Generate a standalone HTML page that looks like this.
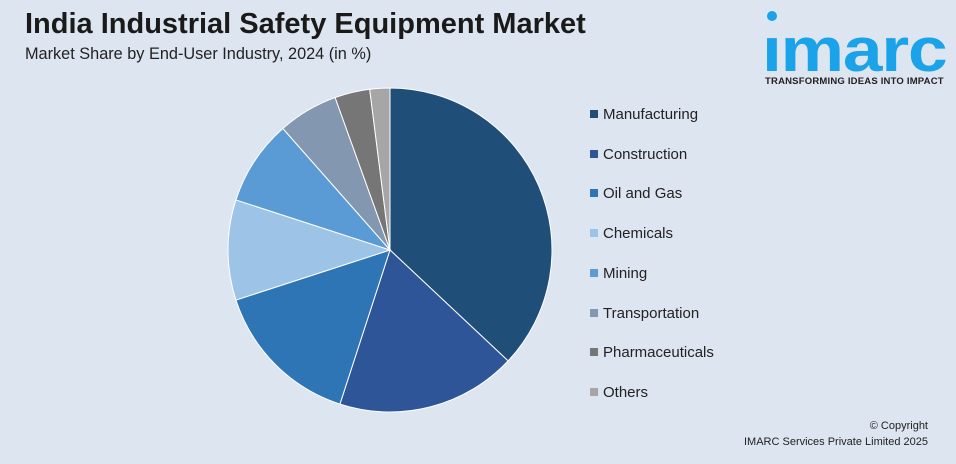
<!DOCTYPE html>
<html><head><meta charset="utf-8"><style>
body{margin:0;width:956px;height:464px;overflow:hidden;background:#dde5f1;font-family:"Liberation Sans",sans-serif;position:relative}
.t{position:absolute;left:25px;top:8px;font-size:29px;font-weight:bold;color:#1a1a1a}
.s{position:absolute;left:25px;top:45px;font-size:16.3px;color:#222}
.logo{position:absolute;left:762px;top:20px;font-size:62px;font-weight:bold;color:#1aa3e8;letter-spacing:-1px;line-height:62px;transform:scaleX(1.15);transform-origin:left top}
.tag{position:absolute;left:765px;top:76px;font-size:9.5px;font-weight:bold;color:#222;letter-spacing:0.2px}
.leg{position:absolute;left:590px;font-size:15px;color:#222}
.leg i{display:inline-block;width:8px;height:8px;margin-right:5px;vertical-align:1px}
.cp{position:absolute;right:28px;top:418px;font-size:11px;color:#222;text-align:right;line-height:16px}
</style></head><body>
<div class="t">India Industrial Safety Equipment Market</div>
<div class="s">Market Share by End-User Industry, 2024 (in %)</div>
<div class="logo">ımarc</div>
<div style="position:absolute;left:767px;top:11px;width:10px;height:10px;border-radius:50%;background:#1aa3e8"></div>
<div class="tag">TRANSFORMING IDEAS INTO IMPACT</div>
<svg id="pie" width="956" height="464" style="position:absolute;left:0;top:0"></svg>
<div id="legend"></div>
<div class="cp">© Copyright<br>IMARC Services Private Limited 2025</div>
<script>
const categories=["Manufacturing","Construction","Oil and Gas","Chemicals","Mining","Transportation","Pharmaceuticals","Others"];
const shares=[37,18,15,10,8.5,6,3.5,2];
const colors=["#1f4e79","#2e5597","#2e75b6","#9dc3e6","#5b9bd5","#8497b0","#767676","#a6a6a6"];
const cx=390,cy=250,r=162;
const svg=document.getElementById('pie');
const total=shares.reduce((a,b)=>a+b,0);
let a0=0;
function pt(a){return [cx+r*Math.sin(a),cy-r*Math.cos(a)];}
shares.forEach((v,i)=>{
  const a1=a0+v/total*2*Math.PI;
  const p0=pt(a0),p1=pt(a1);
  const path=document.createElementNS('http://www.w3.org/2000/svg','path');
  path.setAttribute('d',`M${cx},${cy}L${p0[0]},${p0[1]}A${r},${r} 0 ${a1-a0>Math.PI?1:0} 1 ${p1[0]},${p1[1]}Z`);
  path.setAttribute('fill',colors[i]);
  path.setAttribute('stroke','#fff');
  path.setAttribute('stroke-width','1');
  
  
  svg.appendChild(path);
  a0=a1;
});
const lg=document.getElementById('legend');
categories.forEach((c,i)=>{
  const d=document.createElement('div');
  d.className='leg';
  d.style.top=(106+i*39.7)+'px';
  d.innerHTML=`<i style="background:${colors[i]}"></i>${c}`;
  
  
  lg.appendChild(d);
});
</script>
</body></html>
